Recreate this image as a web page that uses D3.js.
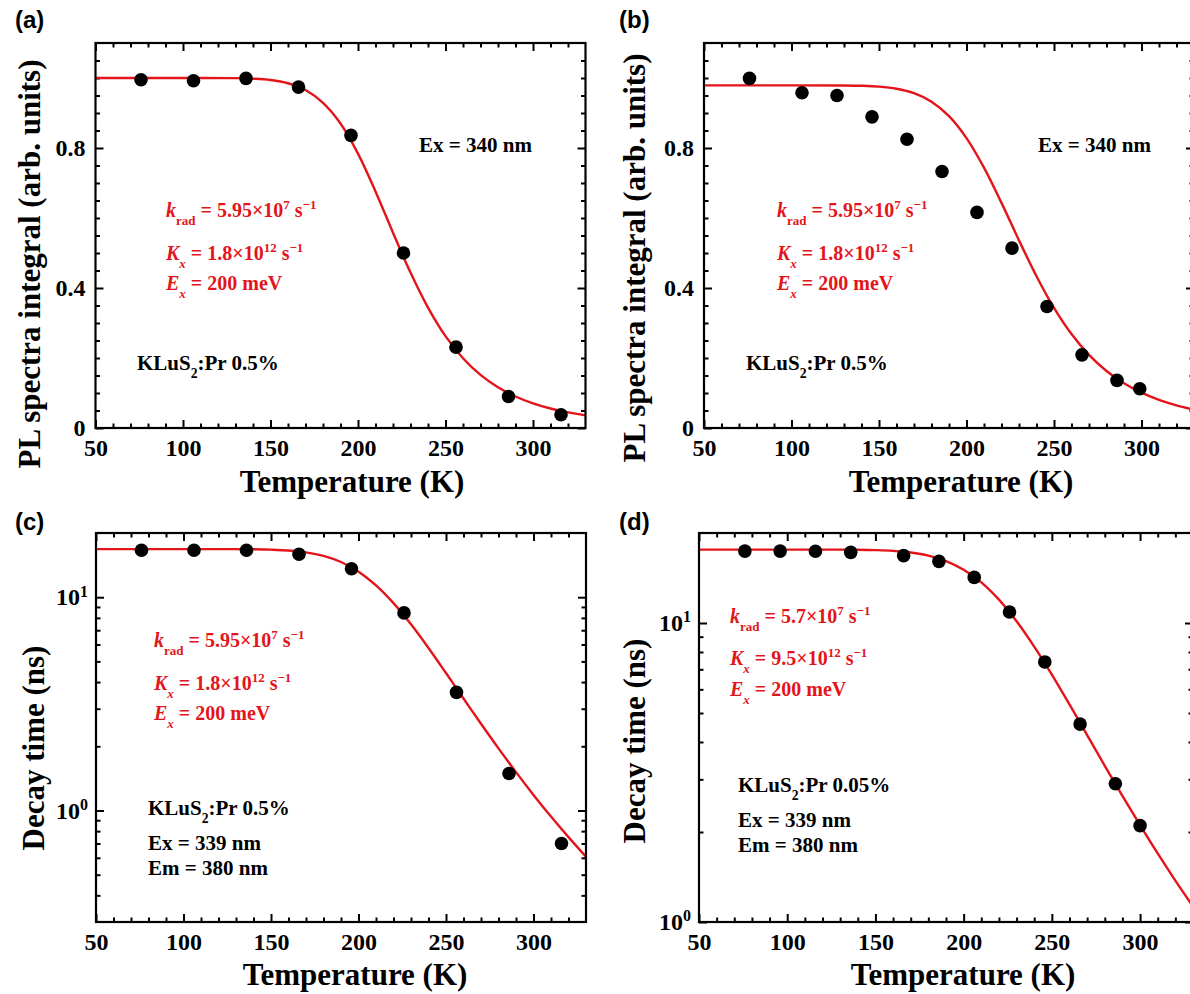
<!DOCTYPE html>
<html>
<head>
<meta charset="utf-8">
<script src="https://cdn.jsdelivr.net/npm/d3@7"></script>
<style>
  body { margin: 0; background: #fff; }
</style>
</head>
<body>
<script>
var tempA = [76, 106, 136, 166, 196, 226, 256, 286, 316];
var plA = [0.995, 0.992, 0.999, 0.974, 0.836, 0.50, 0.231, 0.090, 0.038];

var tempB = [76, 106, 126, 146, 166, 186, 206, 226, 246, 266, 286, 299];
var plB = [0.999, 0.958, 0.950, 0.889, 0.825, 0.733, 0.616, 0.514, 0.347, 0.209, 0.136, 0.112];

var tempC = [76, 106, 136, 166, 196, 226, 256, 286, 316];
var tauC = [16.6, 16.6, 16.6, 15.9, 13.6, 8.44, 3.58, 1.49, 0.70];

var tempD = [76, 96, 116, 136, 166, 186, 206, 226, 246, 266, 286, 300];
var tauD = [17.4, 17.4, 17.37, 17.23, 16.8, 16.08, 14.21, 10.88, 7.41, 4.59, 2.9, 2.1];

// fitted curves (red lines), sampled along temperature
var fitT = [50, 100, 130, 140, 150, 160, 170, 180, 190, 200, 210, 220, 230, 240, 250, 260, 270, 280, 290, 300, 310, 320, 330];
var fitA = [1.0, 1.0, 0.9995, 0.998, 0.9943, 0.985, 0.9656, 0.929, 0.870, 0.784, 0.676, 0.558, 0.444, 0.344, 0.2625, 0.1994, 0.1517, 0.1163, 0.090, 0.0704, 0.0557, 0.0446, 0.0361];
var fitB = [0.979, 0.979, 0.9787, 0.9778, 0.9753, 0.9693, 0.9566, 0.9323, 0.891, 0.8284, 0.7439, 0.6432, 0.5361, 0.4337, 0.3433, 0.2685, 0.209, 0.163, 0.1277, 0.101, 0.0804, 0.0648, 0.0527];
var fitC = [16.81, 16.81, 16.80, 16.78, 16.71, 16.56, 16.23, 15.62, 14.62, 13.18, 11.36, 9.38, 7.46, 5.78, 4.41, 3.35, 2.55, 1.955, 1.513, 1.183, 0.936, 0.750, 0.607];
var fitD = [17.6, 17.6, 17.59, 17.58, 17.53, 17.43, 17.21, 16.80, 16.11, 15.07, 13.67, 11.97, 10.14, 8.34, 6.72, 5.34, 4.22, 3.33, 2.64, 2.11, 1.696, 1.376, 1.128];

var tempTicks = [50, 100, 150, 200, 250, 300];
var plTicks = [0, 0.4, 0.8];
var tauTicks = [1, 10];

var serif = "'Liberation Serif','Times New Roman',serif";
var sans = "'Liberation Sans',Arial,sans-serif";
var red = "#e3151b";

var svg = d3.select("body").append("svg")
    .attr("width", 1190)
    .attr("height", 994);

// text with italic / sub / sup pieces
function richText(g, x, y, segs, size, color) {
    var t = g.append("text")
        .attr("x", x).attr("y", y)
        .attr("font-family", serif)
        .attr("font-weight", "bold")
        .attr("font-size", size)
        .attr("fill", color);
    var shift = 0;
    segs.forEach(function(s) {
        var kind = s[1] || "";
        var sp = t.append("tspan").text(s[0]);
        var target = 0;
        if (kind.indexOf("sub") >= 0) target = size * 0.38;
        if (kind.indexOf("sup") >= 0) target = -size * 0.4;
        if (target !== shift) { sp.attr("dy", target - shift); shift = target; }
        if (target !== 0) sp.attr("font-size", size * 0.65);
        if (kind.indexOf("i") === 0) sp.attr("font-style", "italic");
    });
    return t;
}

function drawPanel(p) {
    var g = svg.append("g");
    var x = d3.scaleLinear().domain([50, 330]).range([p.left, p.right]);
    var y = p.log
        ? d3.scaleLog().domain(p.yDom).range([p.bottom, p.top])
        : d3.scaleLinear().domain(p.yDom).range([p.bottom, p.top]);

    var xMinor = d3.range(60, 330, 10).filter(function(d) { return d % 50 !== 0; });
    var yMinor;
    if (p.log) {
        yMinor = [0.4, 0.5, 0.6, 0.7, 0.8, 0.9, 2, 3, 4, 5, 6, 7, 8, 9].filter(function(d) {
            return d > p.yDom[0] && d < p.yDom[1];
        });
    } else {
        yMinor = d3.range(0.05, 1.1, 0.05).filter(function(d) {
            return Math.abs(d / 0.4 - Math.round(d / 0.4)) > 0.01;
        });
    }

    var axes = g.append("g").attr("class", "axes");
    axes.append("g").attr("transform", "translate(0," + p.bottom + ")")
        .call(d3.axisBottom(x).tickValues(tempTicks).tickSize(-8).tickPadding(11).tickFormat(d3.format("d")));
    axes.append("g").attr("transform", "translate(0," + p.bottom + ")")
        .call(d3.axisBottom(x).tickValues(xMinor).tickSize(-4.5).tickFormat(""));
    axes.append("g").attr("transform", "translate(0," + p.top + ")")
        .call(d3.axisTop(x).tickValues(tempTicks).tickSize(-8).tickFormat(""));
    axes.append("g").attr("transform", "translate(0," + p.top + ")")
        .call(d3.axisTop(x).tickValues(xMinor).tickSize(-4.5).tickFormat(""));

    var yAxis = axes.append("g").attr("class", "yleft").attr("transform", "translate(" + p.left + ",0)")
        .call(d3.axisLeft(y).tickValues(p.yMajor).tickSize(-8).tickPadding(p.log ? 8 : 10)
            .tickFormat(function(d) { return d === 0 ? "0" : (p.log ? "10" : d3.format(".1f")(d)); }));
    axes.append("g").attr("transform", "translate(" + p.left + ",0)")
        .call(d3.axisLeft(y).tickValues(yMinor).tickSize(-4.5).tickFormat(""));
    axes.append("g").attr("transform", "translate(" + p.right + ",0)")
        .call(d3.axisRight(y).tickValues(p.yMajor).tickSize(-8).tickFormat(""));
    axes.append("g").attr("transform", "translate(" + p.right + ",0)")
        .call(d3.axisRight(y).tickValues(yMinor).tickSize(-4.5).tickFormat(""));

    axes.selectAll(".domain").remove();
    axes.selectAll(".tick line").attr("stroke", "#000").attr("stroke-width", 2);
    axes.selectAll(".tick text")
        .attr("font-family", serif)
        .attr("font-weight", "bold")
        .attr("font-size", 24)
        .attr("fill", "#000");

    if (p.log) {
        yAxis.selectAll(".tick text").each(function(d) {
            d3.select(this).append("tspan")
                .attr("dy", "-0.55em")
                .attr("font-size", 16)
                .text(Math.round(Math.log10(d)));
        });
    }

    // fit curve
    var cid = "clip-" + p.id;
    g.append("clipPath").attr("id", cid).append("rect")
        .attr("x", p.left).attr("y", p.top)
        .attr("width", p.right - p.left).attr("height", p.bottom - p.top);
    var line = d3.line()
        .x(function(d) { return x(d[0]); })
        .y(function(d) { return y(d[1]); })
        .curve(d3.curveCatmullRom);
    g.append("path")
        .datum(d3.zip(fitT, p.fit))
        .attr("clip-path", "url(#" + cid + ")")
        .attr("d", line)
        .attr("fill", "none")
        .attr("stroke", red)
        .attr("stroke-width", 2.4);

    // frame
    g.append("rect")
        .attr("x", p.left).attr("y", p.top)
        .attr("width", p.right - p.left).attr("height", p.bottom - p.top)
        .attr("fill", "none").attr("stroke", "#000").attr("stroke-width", 2.2);

    g.selectAll("circle.pt")
        .data(d3.zip(p.T, p.V))
        .enter()
        .append("circle")
        .attr("class", "pt")
        .attr("cx", function(d) { return x(d[0]); })
        .attr("cy", function(d) { return y(d[1]); })
        .attr("r", 6.8)
        .attr("fill", "#000");

    // titles
    g.append("text")
        .attr("x", p.xt[0]).attr("y", p.xt[1])
        .attr("text-anchor", "middle")
        .attr("font-family", serif).attr("font-weight", "bold").attr("font-size", 31)
        .text("Temperature (K)");
    g.append("text")
        .attr("transform", "translate(" + p.yt[0] + "," + p.yt[1] + ") rotate(-90)")
        .attr("text-anchor", "middle")
        .attr("font-family", serif).attr("font-weight", "bold").attr("font-size", 31)
        .text(p.yTitle);

    g.append("text")
        .attr("x", p.lab[0]).attr("y", p.lab[1])
        .attr("font-family", sans).attr("font-weight", "bold").attr("font-size", 24)
        .text(p.label);

    p.notes.forEach(function(n) {
        richText(g, n.x, n.y, n.segs, n.size, n.color);
    });
}

function fitNotes(x, y0, y1, y2, krad, kx) {
    return [
        {x: x, y: y0, size: 20, color: red, segs: [["k", "i"], ["rad", "sub"], [" = " + krad + "×10"], ["7", "sup"], [" s"], ["−1", "sup"]]},
        {x: x, y: y1, size: 20, color: red, segs: [["K", "i"], ["x", "isub"], [" = " + kx + "×10"], ["12", "sup"], [" s"], ["−1", "sup"]]},
        {x: x, y: y2, size: 20, color: red, segs: [["E", "i"], ["x", "isub"], [" = 200 meV"]]}
    ];
}

function sampleNote(x, y, pct) {
    return {x: x, y: y, size: 21, color: "#000", segs: [["KLuS"], ["2", "sub"], [":Pr " + pct]]};
}

var panels = [
    {id: "a", label: "(a)", lab: [15, 28], left: 95.5, right: 585.5, top: 43, bottom: 428,
     log: false, yDom: [0, 1.1], yMajor: plTicks, T: tempA, V: plA, fit: fitA,
     yTitle: "PL spectra integral (arb. units)", yt: [40, 264], xt: [352, 492],
     notes: fitNotes(166, 217, 260, 290, "5.95", "1.8").concat([
        {x: 419, y: 152, size: 21, color: "#000", segs: [["Ex = 340 nm"]]},
        sampleNote(137, 370, "0.5%")])},
    {id: "b", label: "(b)", lab: [619, 28], left: 704, right: 1194, top: 43, bottom: 428,
     log: false, yDom: [0, 1.1], yMajor: plTicks, T: tempB, V: plB, fit: fitB,
     yTitle: "PL spectra integral (arb. units)", yt: [645, 258], xt: [961, 492],
     notes: fitNotes(777, 217, 260, 290, "5.95", "1.8").concat([
        {x: 1038, y: 152, size: 21, color: "#000", segs: [["Ex = 340 nm"]]},
        sampleNote(746, 370, "0.5%")])},
    {id: "c", label: "(c)", lab: [15, 530], left: 96, right: 586, top: 533, bottom: 922,
     log: true, yDom: [0.3, 20], yMajor: tauTicks, T: tempC, V: tauC, fit: fitC,
     yTitle: "Decay time (ns)", yt: [44, 748], xt: [355, 985],
     notes: fitNotes(154, 647, 690, 720, "5.95", "1.8").concat([
        sampleNote(148, 815, "0.5%"),
        {x: 148, y: 850, size: 21, color: "#000", segs: [["Ex = 339 nm"]]},
        {x: 148, y: 875, size: 21, color: "#000", segs: [["Em = 380 nm"]]}])},
    {id: "d", label: "(d)", lab: [619, 530], left: 699, right: 1193, top: 533, bottom: 922,
     log: true, yDom: [1, 20], yMajor: tauTicks, T: tempD, V: tauD, fit: fitD,
     yTitle: "Decay time (ns)", yt: [645, 741], xt: [963, 985],
     notes: fitNotes(730, 623, 665, 696, "5.7", "9.5").concat([
        sampleNote(738, 792, "0.05%"),
        {x: 738, y: 827, size: 21, color: "#000", segs: [["Ex = 339 nm"]]},
        {x: 738, y: 852, size: 21, color: "#000", segs: [["Em = 380 nm"]]}])}
];

panels.forEach(drawPanel);
</script>
</body>
</html>
